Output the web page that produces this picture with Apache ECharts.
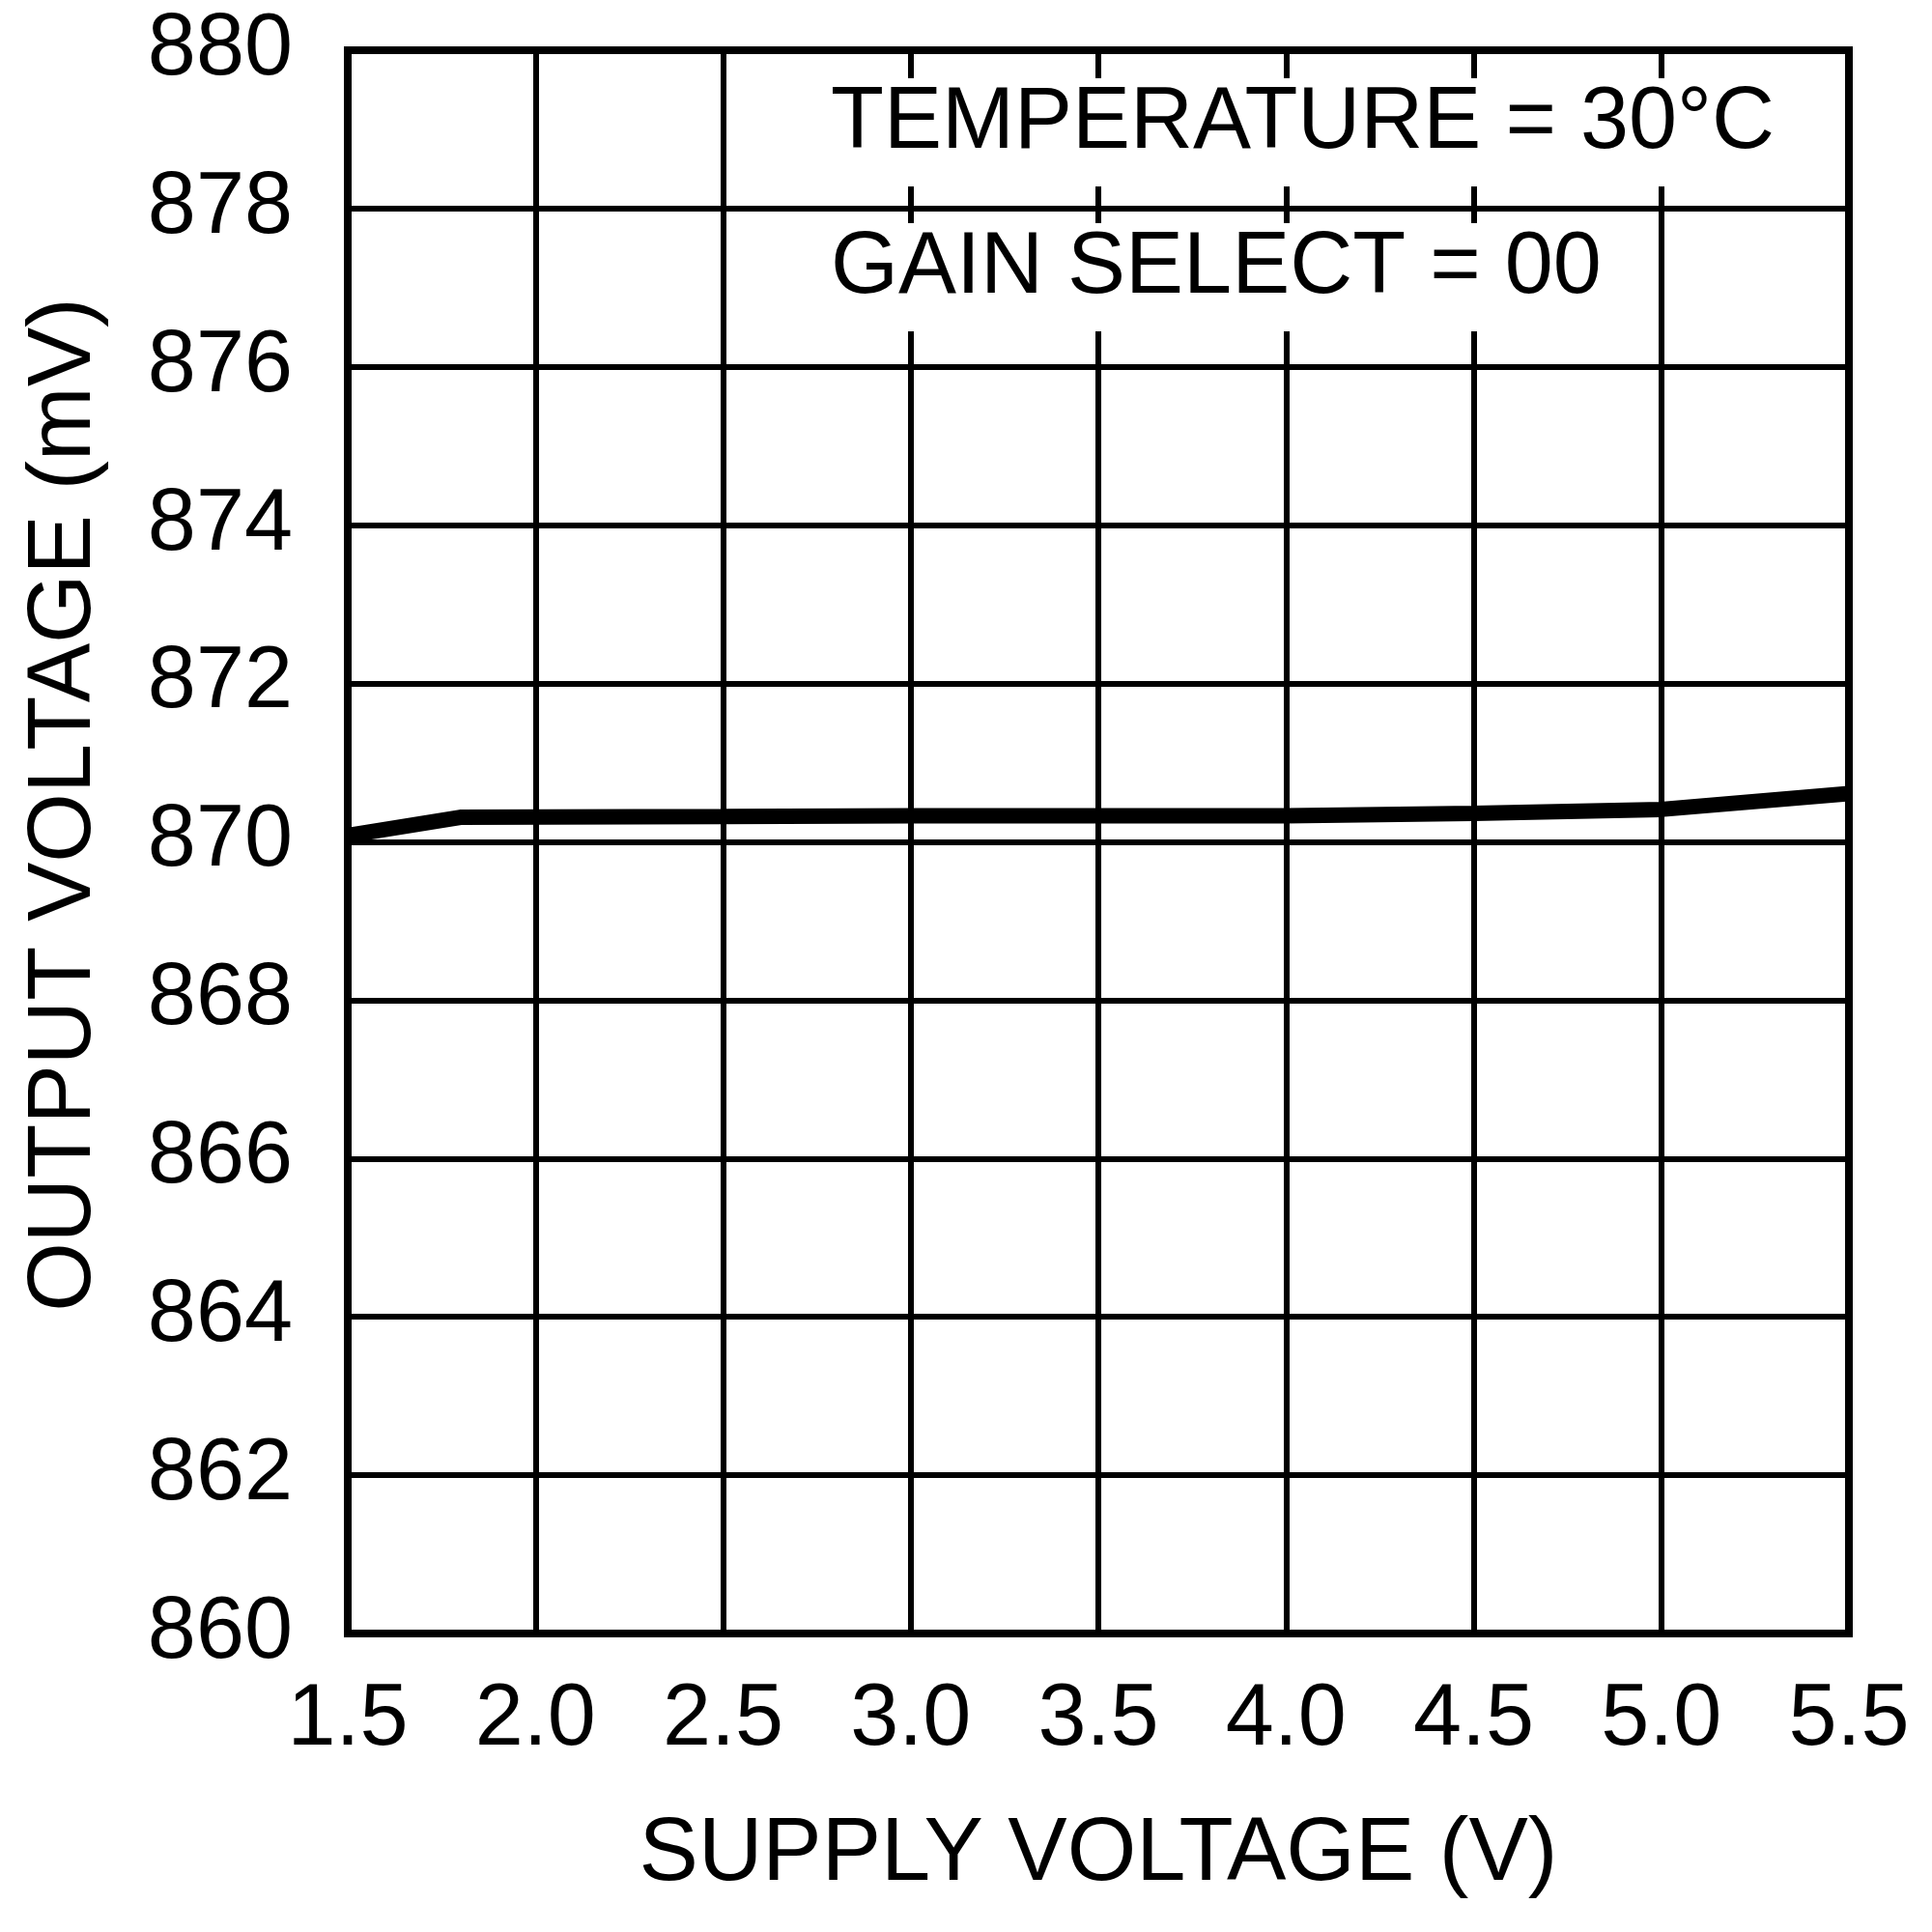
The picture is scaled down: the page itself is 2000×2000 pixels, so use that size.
<!DOCTYPE html>
<html>
<head>
<meta charset="utf-8">
<script src="https://cdn.jsdelivr.net/npm/echarts@6/dist/echarts.min.js"></script>
<style>
html,body{margin:0;padding:0;background:#fff;}
#chart{width:2000px;height:2000px;}
</style>
</head>
<body>
<div id="chart"></div>
<script>
// Data
var supplyVoltage = [1.5, 1.8, 2.5, 3.0, 3.5, 4.0, 4.5, 5.0, 5.5];
var outputVoltage = [870.08, 870.31, 870.32, 870.33, 870.33, 870.33, 870.36, 870.41, 870.61];
var xTitle = 'SUPPLY VOLTAGE (V)';
var yTitle = 'OUTPUT VOLTAGE (mV)';
var note1 = 'TEMPERATURE = 30°C';
var note2 = 'GAIN SELECT = 00';

var FONT = '"Liberation Sans", Arial, sans-serif';
var FS = 90;
var FT = 92;

var chart = echarts.init(document.getElementById('chart'), null, {renderer: 'canvas'});
var seriesData = supplyVoltage.map(function (v, i) { return [v, outputVoltage[i]]; });

chart.setOption({
  animation: false,
  backgroundColor: '#fff',
  grid: {
    left: 360, top: 52, right: 86, bottom: 309,
    show: true, borderWidth: 8, borderColor: '#000', backgroundColor: 'transparent', z: 10
  },
  xAxis: {
    type: 'value', min: 1.5, max: 5.5, interval: 0.5,
    axisLine: {show: false}, axisTick: {show: false},
    splitLine: {show: true, lineStyle: {color: '#000', width: 6}},
    axisLabel: {
      color: '#000', fontFamily: FONT, fontSize: FS, lineHeight: FS, margin: 45,
      formatter: function (v) { return v.toFixed(1); }
    }
  },
  yAxis: {
    type: 'value', min: 860, max: 880, interval: 2,
    axisLine: {show: false}, axisTick: {show: false},
    splitLine: {show: true, lineStyle: {color: '#000', width: 6}},
    axisLabel: {color: '#000', fontFamily: FONT, fontSize: FS, margin: 57}
  },
  series: [{
    type: 'line', data: seriesData, showSymbol: false, symbol: 'none',
    lineStyle: {color: '#000', width: 16}, z: 5
  }],
  graphic: [
    {type: 'rect', z: 50, shape: {x: 850, y: 81, width: 1000, height: 112}, style: {fill: '#fff'}},
    {type: 'rect', z: 50, shape: {x: 850, y: 231, width: 830, height: 112}, style: {fill: '#fff'}},
    {type: 'text', z: 60, x: 860, y: 128, style: {text: note1, fill: '#000', font: FS + 'px ' + FONT, align: 'left', verticalAlign: 'middle'}},
    {type: 'text', z: 60, x: 860, y: 278, style: {text: note2, fill: '#000', font: FS + 'px ' + FONT, align: 'left', verticalAlign: 'middle'}},
    {type: 'text', z: 60, x: 1137, y: 1921, style: {text: xTitle, fill: '#000', font: FT + 'px ' + FONT, align: 'center', verticalAlign: 'middle'}},
    {type: 'text', z: 60, x: 68, y: 833, rotation: Math.PI / 2, style: {text: yTitle, fill: '#000', font: FT + 'px ' + FONT, align: 'center', verticalAlign: 'middle'}}
  ]
});
</script>
</body>
</html>
